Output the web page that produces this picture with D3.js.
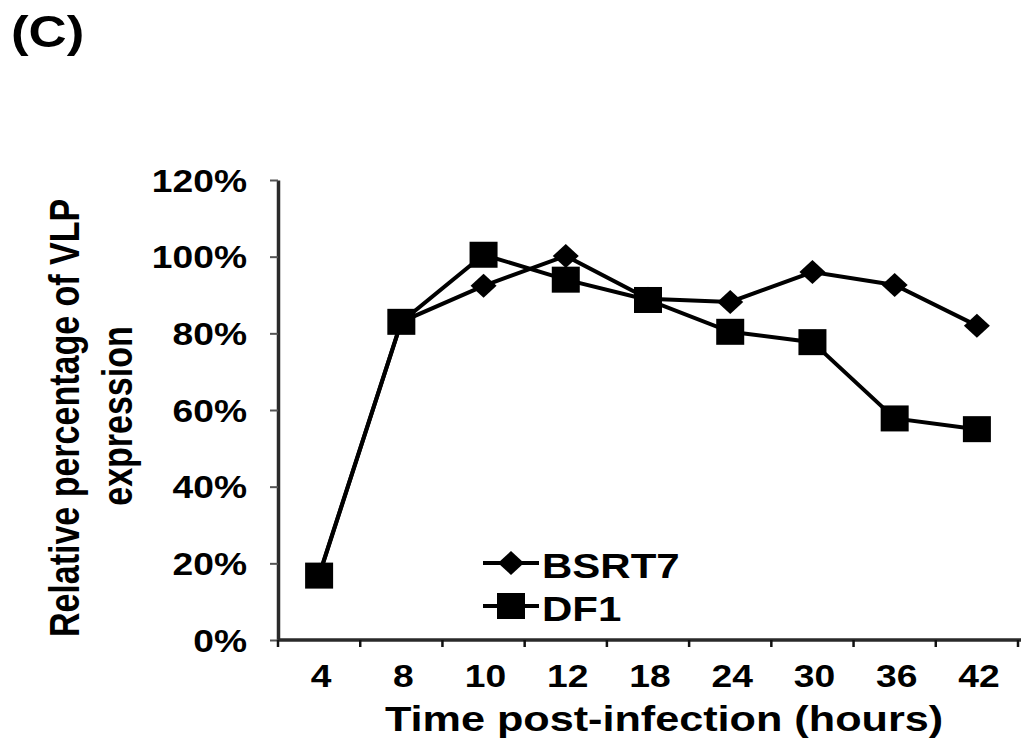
<!DOCTYPE html>
<html>
<head>
<meta charset="utf-8">
<script src="https://cdn.jsdelivr.net/npm/d3@7"></script>
<style>
  body { margin: 0; background: #fff; }
  text { font-family: "Liberation Sans", Arial, sans-serif; font-weight: bold; fill: #000; }
</style>
</head>
<body>
<svg id="chart" width="1021" height="742"></svg>
<script>
const hours = ["4", "8", "10", "12", "18", "24", "30", "36", "42"];
const bsrt7 = [17, 83, 92.4, 100.2, 89, 88.2, 96, 92.6, 82];
const df1 = [16.8, 83, 100.5, 94, 88.7, 80.4, 77.7, 57.8, 55];
const yTicks = [0, 20, 40, 60, 80, 100, 120];

const svg = d3.select('#chart');
const sx = 1.2; // the picture is stretched sideways

const x = d3.scaleBand().domain(hours).range([278, 1018]);
const y = d3.scaleLinear().domain([0, 120]).range([640, 180]);

svg.append('rect').attr('width', 1021).attr('height', 742).attr('fill', '#fff');

// panel label
svg.append('text')
    .attr('transform', `translate(11,47) scale(${sx},1)`)
    .style('font-size', '44px')
    .text('(C)');

// y axis
const yAxis = svg.append('g')
    .attr('transform', 'translate(278,0)')
    .call(d3.axisLeft(y).tickValues(yTicks).tickSize(8).tickSizeOuter(0)
        .tickFormat(d => d + '%'));
yAxis.select('.domain').attr('stroke', '#2a2a2a').attr('stroke-width', 3.5);
yAxis.selectAll('.tick line').attr('stroke', '#555').attr('stroke-width', 2);
yAxis.selectAll('.tick text')
    .attr('x', null).attr('dy', null)
    .attr('transform', `translate(-31,11) scale(${sx},1)`)
    .style('font-size', '31px')
    .style('font-family', '"Liberation Sans", Arial, sans-serif')
    .attr('fill', '#000');

// x axis: labels at band centres, ticks at band edges
const xAxis = svg.append('g')
    .attr('transform', 'translate(0,640)')
    .call(d3.axisBottom(x).tickSize(0).tickSizeOuter(0));
xAxis.select('.domain').attr('d', 'M278,0H1021').attr('stroke', '#2a2a2a').attr('stroke-width', 3.5);
xAxis.selectAll('.tick text')
    .attr('y', null).attr('dy', null)
    .attr('transform', `translate(2,47) scale(${sx},1)`)
    .style('font-size', '31px')
    .style('font-family', '"Liberation Sans", Arial, sans-serif')
    .attr('fill', '#000');
const edges = hours.map(h => x(h)).concat([x.range()[1]]);
xAxis.selectAll('.edge')
    .data(edges)
    .join('line')
    .attr('class', 'edge')
    .attr('x1', d => d).attr('x2', d => d)
    .attr('y1', 0).attr('y2', 7)
    .attr('stroke', '#111').attr('stroke-width', 2.5);

// axis titles
svg.append('text')
    .attr('text-anchor', 'middle')
    .attr('transform', `translate(664,731) scale(${sx},1)`)
    .style('font-size', '36px')
    .text('Time post-infection (hours)');

svg.append('text')
    .attr('text-anchor', 'middle')
    .attr('transform', `translate(79,418) scale(1.25,1) rotate(-90)`)
    .style('font-size', '34px')
    .text('Relative percentage of VLP');
svg.append('text')
    .attr('text-anchor', 'middle')
    .attr('transform', `translate(132,416) scale(1.25,1) rotate(-90)`)
    .style('font-size', '34px')
    .text('expression');

// markers
const diamond = (g, cx, cy) => g.append('path')
    .attr('d', `M${cx},${cy - 12}L${cx + 13},${cy}L${cx},${cy + 12}L${cx - 13},${cy}Z`)
    .attr('fill', '#000');
const square = (g, cx, cy) => g.append('rect')
    .attr('x', cx - 14).attr('y', cy - 13)
    .attr('width', 28).attr('height', 26)
    .attr('fill', '#000');

const line = d3.line()
    .x((d, i) => x(hours[i]) + x.bandwidth() / 2)
    .y(d => y(d));

const series = [
    { name: 'BSRT7', values: bsrt7, marker: diamond },
    { name: 'DF1', values: df1, marker: square }
];

series.forEach(s => {
    const g = svg.append('g');
    g.append('path')
        .attr('d', line(s.values))
        .attr('fill', 'none')
        .attr('stroke', '#000')
        .attr('stroke-width', 4);
    s.values.forEach((v, i) => s.marker(g, x(hours[i]) + x.bandwidth() / 2, y(v)));
});

// legend
series.forEach((s, i) => {
    const ly = 563 + i * 43;
    const g = svg.append('g');
    g.append('line')
        .attr('x1', 483).attr('x2', 539)
        .attr('y1', ly).attr('y2', ly)
        .attr('stroke', '#000').attr('stroke-width', 4);
    s.marker(g, 511, ly);
    g.append('text')
        .attr('transform', `translate(542,${ly + 15}) scale(${sx},1)`)
        .style('font-size', '35px')
        .text(s.name);
});
</script>
</body>
</html>
